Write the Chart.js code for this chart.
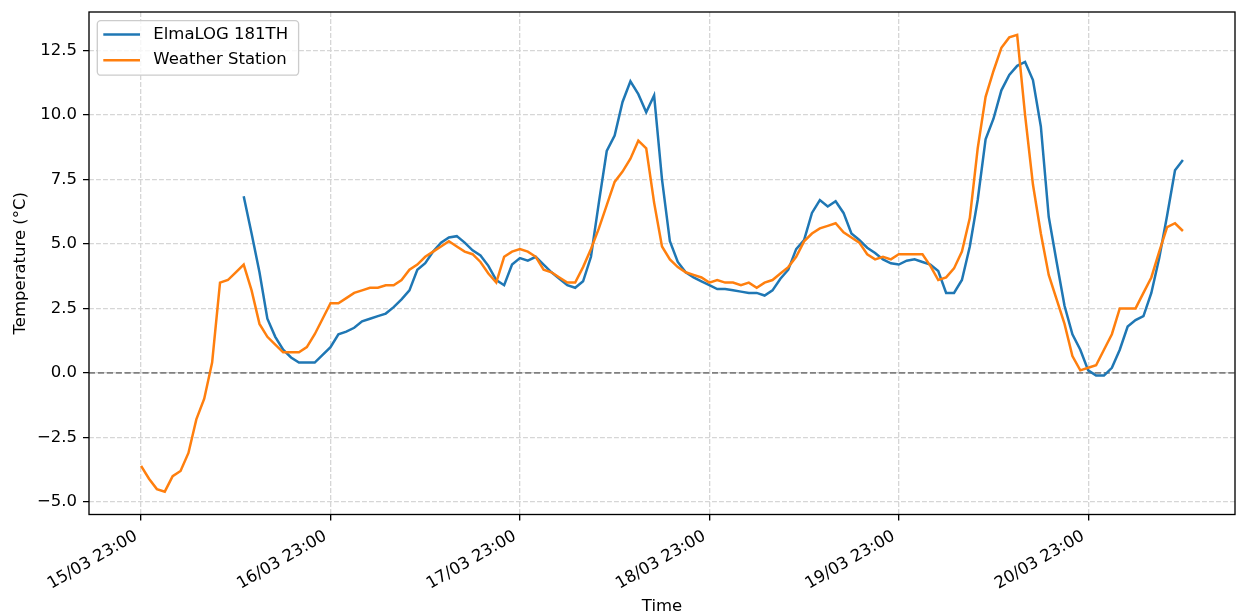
<!DOCTYPE html>
<html>
<head>
<meta charset="utf-8">
<script src="https://cdn.jsdelivr.net/npm/chart.js@4.4.1/dist/chart.umd.min.js"></script>
<style>
  html, body { margin: 0; padding: 0; background: #ffffff; }
  canvas { display: block; }
</style>
</head>
<body>
<canvas id="chart" width="1237" height="616"></canvas>
<script>
// Hourly temperature readings; hour 0 is 15/03 23:00.
const seriesNames = ['ElmaLOG 181TH', 'Weather Station'];
const seriesColors = ['#1f77b4', '#ff7f0e'];

const loggerStartHour = 13;
const loggerTemps = [
  6.85, 5.4, 3.9, 2.1, 1.4, 0.9, 0.6, 0.4, 0.4, 0.4,
  0.7, 1.0, 1.5, 1.6, 1.75, 2.0, 2.1, 2.2, 2.3, 2.55,
  2.85, 3.2, 4.0, 4.25, 4.7, 5.05, 5.25, 5.3, 5.05, 4.75,
  4.55, 4.15, 3.6, 3.4, 4.2, 4.45, 4.35, 4.5, 4.2, 3.9,
  3.65, 3.4, 3.3, 3.55, 4.5, 6.6, 8.6, 9.2, 10.5, 11.3,
  10.8, 10.1, 10.75, 7.5, 5.1, 4.3, 3.9, 3.7, 3.55, 3.4,
  3.25, 3.25, 3.2, 3.15, 3.1, 3.1, 3.0, 3.2, 3.65, 4.0,
  4.8, 5.15, 6.2, 6.7, 6.45, 6.65, 6.2, 5.4, 5.15, 4.85,
  4.65, 4.4, 4.25, 4.2, 4.35, 4.4, 4.3, 4.2, 3.95, 3.1,
  3.1, 3.6, 4.9, 6.7, 9.05, 9.85, 10.95, 11.55, 11.9, 12.05,
  11.35, 9.55, 6.05, 4.3, 2.6, 1.5, 0.9, 0.1, -0.1, -0.1,
  0.2, 0.9, 1.8, 2.05, 2.2, 3.1, 4.45, 6.1, 7.85, 8.25
];

const stationStartHour = 0;
const stationTemps = [
  -3.6, -4.1, -4.5, -4.6, -4.0, -3.8, -3.1, -1.8, -1.0, 0.4,
  3.5, 3.6, 3.9, 4.2, 3.2, 1.9, 1.4, 1.1, 0.8, 0.8,
  0.8, 1.0, 1.5, 2.1, 2.7, 2.7, 2.9, 3.1, 3.2, 3.3,
  3.3, 3.4, 3.4, 3.6, 4.0, 4.2, 4.5, 4.7, 4.9, 5.1,
  4.9, 4.7, 4.6, 4.3, 3.85, 3.5, 4.5, 4.7, 4.8, 4.7,
  4.5, 4.0, 3.9, 3.7, 3.5, 3.5, 4.1, 4.8, 5.6, 6.5,
  7.4, 7.8, 8.3, 9.0, 8.7, 6.6, 4.9, 4.4, 4.1, 3.9,
  3.8, 3.7, 3.5, 3.6, 3.5, 3.5, 3.4, 3.5, 3.3, 3.5,
  3.6, 3.85, 4.1, 4.5, 5.1, 5.4, 5.6, 5.7, 5.8, 5.45,
  5.25, 5.05, 4.6, 4.4, 4.5, 4.4, 4.6, 4.6, 4.6, 4.6,
  4.15, 3.6, 3.7, 4.05, 4.7, 6.0, 8.7, 10.7, 11.7, 12.6,
  13.0, 13.1, 10.0, 7.3, 5.4, 3.8, 2.85, 1.9, 0.65, 0.1,
  0.2, 0.3, 0.9, 1.5, 2.5, 2.5, 2.5, 3.1, 3.7, 4.7,
  5.65, 5.8, 5.5
];

const dayTickHours = [0, 24, 48, 72, 96, 120];
const dayTickLabels = ['15/03 23:00', '16/03 23:00', '17/03 23:00', '18/03 23:00', '19/03 23:00', '20/03 23:00'];
const tempTickValues = [-5, -2.5, 0, 2.5, 5, 7.5, 10, 12.5];

const axisTitleX = 'Time';
const axisTitleY = 'Temperature (°C)';

function toPoints(startHour, values) {
  return values.map((v, i) => ({ x: startHour + i, y: v }));
}

const FONT = 'DejaVu Sans';
const FONT_SIZE = 16.5;

// Hourly span with a 5% margin either side, same for the temperatures.
const hourLo = stationStartHour;
const hourHi = Math.max(stationStartHour + stationTemps.length, loggerStartHour + loggerTemps.length) - 1;
const hourPad = (hourHi - hourLo) * 0.05;
const allTemps = loggerTemps.concat(stationTemps);
const tLo = Math.min(...allTemps), tHi = Math.max(...allTemps);
const tPad = (tHi - tLo) * 0.05;

const extras = {
  id: 'extras',
  beforeDatasetsDraw(chart) {
    const { ctx, chartArea: a, scales: { y } } = chart;
    const y0 = y.getPixelForValue(0);
    ctx.save();
    ctx.strokeStyle = 'rgb(128,128,128)';
    ctx.lineWidth = 1.67;
    ctx.setLineDash([6.2, 2.7]);
    ctx.beginPath();
    ctx.moveTo(a.left, y0);
    ctx.lineTo(a.right, y0);
    ctx.stroke();
    ctx.restore();
  },
  afterDatasetsDraw(chart) {
    const { ctx, chartArea: a } = chart;
    ctx.save();
    ctx.strokeStyle = '#000000';
    ctx.lineWidth = 1.33;
    ctx.strokeRect(a.left, a.top, a.right - a.left, a.bottom - a.top);
    ctx.restore();
  },
  afterDraw(chart) {
    const { ctx, chartArea: a } = chart;
    const ds = chart.data.datasets;
    ctx.save();
    ctx.font = FONT_SIZE + 'px "' + FONT + '"';
    const textW = Math.max(...ds.map(d => ctx.measureText(d.label).width));
    const bx = a.left + 8.3, by = a.top + 8.6;
    const lineX0 = bx + 6, lineX1 = bx + 42.7, textX = bx + 56;
    const bw = (textX - bx) + textW + 10.5;
    const rowH = 25.6, firstRow = by + 14;
    const bh = 54.6;
    const r = 3.5;
    ctx.beginPath();
    ctx.moveTo(bx + r, by);
    ctx.lineTo(bx + bw - r, by);
    ctx.arcTo(bx + bw, by, bx + bw, by + r, r);
    ctx.lineTo(bx + bw, by + bh - r);
    ctx.arcTo(bx + bw, by + bh, bx + bw - r, by + bh, r);
    ctx.lineTo(bx + r, by + bh);
    ctx.arcTo(bx, by + bh, bx, by + bh - r, r);
    ctx.lineTo(bx, by + r);
    ctx.arcTo(bx, by, bx + r, by, r);
    ctx.closePath();
    ctx.fillStyle = 'rgba(255,255,255,0.8)';
    ctx.fill();
    ctx.strokeStyle = '#cccccc';
    ctx.lineWidth = 1.33;
    ctx.stroke();
    ds.forEach((d, i) => {
      const yy = firstRow + i * rowH;
      ctx.strokeStyle = d.borderColor;
      ctx.lineWidth = 2.5;
      ctx.beginPath();
      ctx.moveTo(lineX0, yy);
      ctx.lineTo(lineX1, yy);
      ctx.stroke();
      ctx.fillStyle = '#000000';
      ctx.textBaseline = 'middle';
      ctx.textAlign = 'left';
      ctx.fillText(d.label, textX, yy);
    });
    ctx.restore();
  }
};

Chart.defaults.font.family = FONT;
Chart.defaults.font.size = FONT_SIZE;
Chart.defaults.color = '#000000';

new Chart(document.getElementById('chart'), {
  type: 'line',
  data: {
    datasets: [
      {
        label: seriesNames[0],
        data: toPoints(loggerStartHour, loggerTemps),
        borderColor: seriesColors[0],
        backgroundColor: seriesColors[0],
        borderWidth: 2.5,
        pointRadius: 0,
        tension: 0,
        fill: false,
        order: 1
      },
      {
        label: seriesNames[1],
        data: toPoints(stationStartHour, stationTemps),
        borderColor: seriesColors[1],
        backgroundColor: seriesColors[1],
        borderWidth: 2.5,
        pointRadius: 0,
        tension: 0,
        fill: false,
        order: 0
      }
    ]
  },
  options: {
    responsive: false,
    animation: false,
    devicePixelRatio: 1,
    layout: { padding: { left: 0, right: 2, top: 12, bottom: 0 } },
    plugins: {
      legend: { display: false },
      tooltip: { enabled: false },
      title: { display: false }
    },
    scales: {
      x: {
        type: 'linear',
        min: hourLo - hourPad,
        max: hourHi + hourPad,
        afterBuildTicks(scale) {
          scale.ticks = dayTickHours.map(v => ({ value: v }));
        },
        afterFit(scale) {
          scale.height = 101.5;
          scale.paddingLeft = 0;
          scale.paddingRight = 0;
        },
        ticks: {
          autoSkip: false,
          minRotation: 30,
          maxRotation: 30,
          padding: 6,
          labelOffset: -5,
          color: '#000000',
          font: { size: FONT_SIZE },
          callback(value) {
            const i = dayTickHours.indexOf(value);
            return i >= 0 ? dayTickLabels[i] : '';
          }
        },
        grid: {
          color: '#d6d6d6',
          lineWidth: 1.33,
          tickLength: 6,
          tickColor: '#000000',
          tickWidth: 1.33,
          tickBorderDash: [1, 0]
        },
        border: { display: false, dash: [4.9, 2.1] },
        title: {
          display: true,
          text: axisTitleX,
          color: '#000000',
          font: { size: FONT_SIZE },
          padding: { top: 0, bottom: -1 }
        }
      },
      y: {
        type: 'linear',
        min: tLo - tPad,
        max: tHi + tPad,
        afterBuildTicks(scale) {
          scale.ticks = tempTickValues.map(v => ({ value: v }));
        },
        afterFit(scale) {
          scale.width = 89;
          scale.paddingTop = 0;
          scale.paddingBottom = 0;
        },
        ticks: {
          padding: 6,
          color: '#000000',
          font: { size: FONT_SIZE },
          callback(value) {
            return value.toFixed(1).replace('-', '\u2212');
          }
        },
        grid: {
          color: '#d6d6d6',
          lineWidth: 1.33,
          tickLength: 6,
          tickColor: '#000000',
          tickWidth: 1.33,
          tickBorderDash: [1, 0]
        },
        border: { display: false, dash: [4.9, 2.1] },
        title: {
          display: true,
          text: axisTitleY,
          color: '#000000',
          font: { size: FONT_SIZE },
          padding: { top: 11, bottom: 0 }
        }
      }
    }
  },
  plugins: [extras]
});
</script>
</body>
</html>
